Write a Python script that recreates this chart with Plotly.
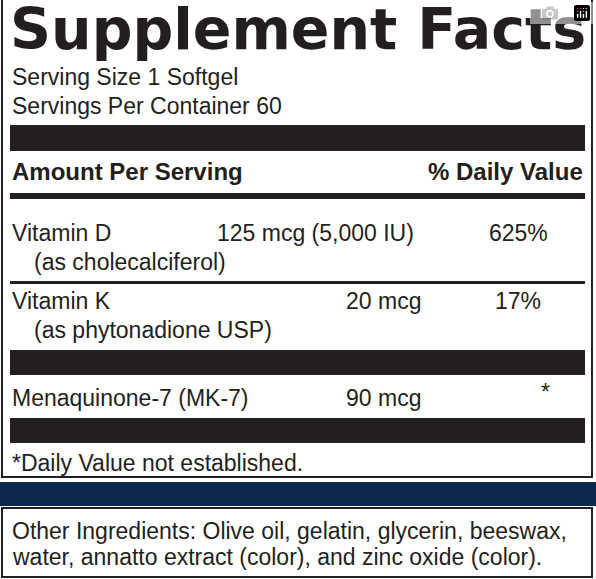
import plotly.graph_objects as go

W, H = 596, 579
title = "Supplement Facts"
serving = ["Serving Size 1 Softgel", "Servings Per Container 60"]
headers = ["Amount Per Serving", "% Daily Value"]
nutrients = ["Vitamin D", "Vitamin K", "Menaquinone-7 (MK-7)"]
sources = ["(as cholecalciferol)", "(as phytonadione USP)", ""]
amounts = ["125 mcg (5,000 IU)", "20 mcg", "90 mcg"]
dvs = ["625%", "17%", "*"]
footnote = "*Daily Value not established."
other = ["Other Ingredients: Olive oil, gelatin, glycerin, beeswax,",
         "water, annatto extract (color), and zinc oxide (color)."]

F = "Liberation Sans Narrow, Liberation Sans, Arial, sans-serif"
C = "#231f20"
fig = go.Figure()
shapes, ann = [], []

def rect(x0, y0, x1, y1, fill=C, line=None):
    shapes.append(dict(type="rect", xref="x", yref="y", x0=x0, x1=x1, y0=y0, y1=y1,
                       fillcolor=fill, line=dict(width=0) if line is None else line))

def txt(x, y, s, size=23, bold=False, anchor="left", font=F):
    ann.append(dict(x=x, y=y, xref="x", yref="y", text=f"<b>{s}</b>" if bold else s,
                    showarrow=False, xanchor=anchor, yanchor="middle",
                    font=dict(family=font, size=size, color=C)))

# frames
rect(2, -5, 592, 477, fill="rgba(0,0,0,0)", line=dict(color=C, width=2))
rect(0, 482, 596, 506, fill="#0c2a4d")
rect(2, 508, 592, 577, fill="rgba(0,0,0,0)", line=dict(color=C, width=2))
# bars
rect(10, 125, 585, 151)
rect(10, 193, 585, 199)
rect(10, 281, 585, 284)
rect(10, 350, 585, 375)
rect(10, 418, 585, 443)

txt(298, 29, title, size=57, bold=True, anchor="center", font="DejaVu Sans, sans-serif")
txt(10, 77, serving[0])
txt(10, 106, serving[1])
txt(10, 171, headers[0], size=24, bold=True)
txt(585, 171, headers[1], size=24, bold=True, anchor="right")

rows_y = [233, 301, 398]
for i, n in enumerate(nutrients):
    y = rows_y[i]
    txt(10, y, n)
    if sources[i]:
        txt(32, y + 29, sources[i])
    if i == 0:
        txt(215, y, amounts[i])
    else:
        txt(423, y, amounts[i], anchor="right")
    if dvs[i] == "*":
        txt(545, y - 6, dvs[i], anchor="center")
    else:
        txt(518, y, dvs[i], anchor="center")

txt(10, 463, footnote)
txt(10, 531, other[0])
txt(10, 557, other[1])

fig.update_layout(width=W, height=H, margin=dict(l=0, r=0, t=0, b=0),
                  paper_bgcolor="white", plot_bgcolor="white",
                  shapes=shapes, annotations=ann, showlegend=False,
                  xaxis=dict(range=[0, W], visible=False, fixedrange=True),
                  yaxis=dict(range=[H, 0], visible=False, fixedrange=True))
fig.write_html("out.html", post_script="document.body.style.margin='0';document.body.style.overflow='hidden';")
